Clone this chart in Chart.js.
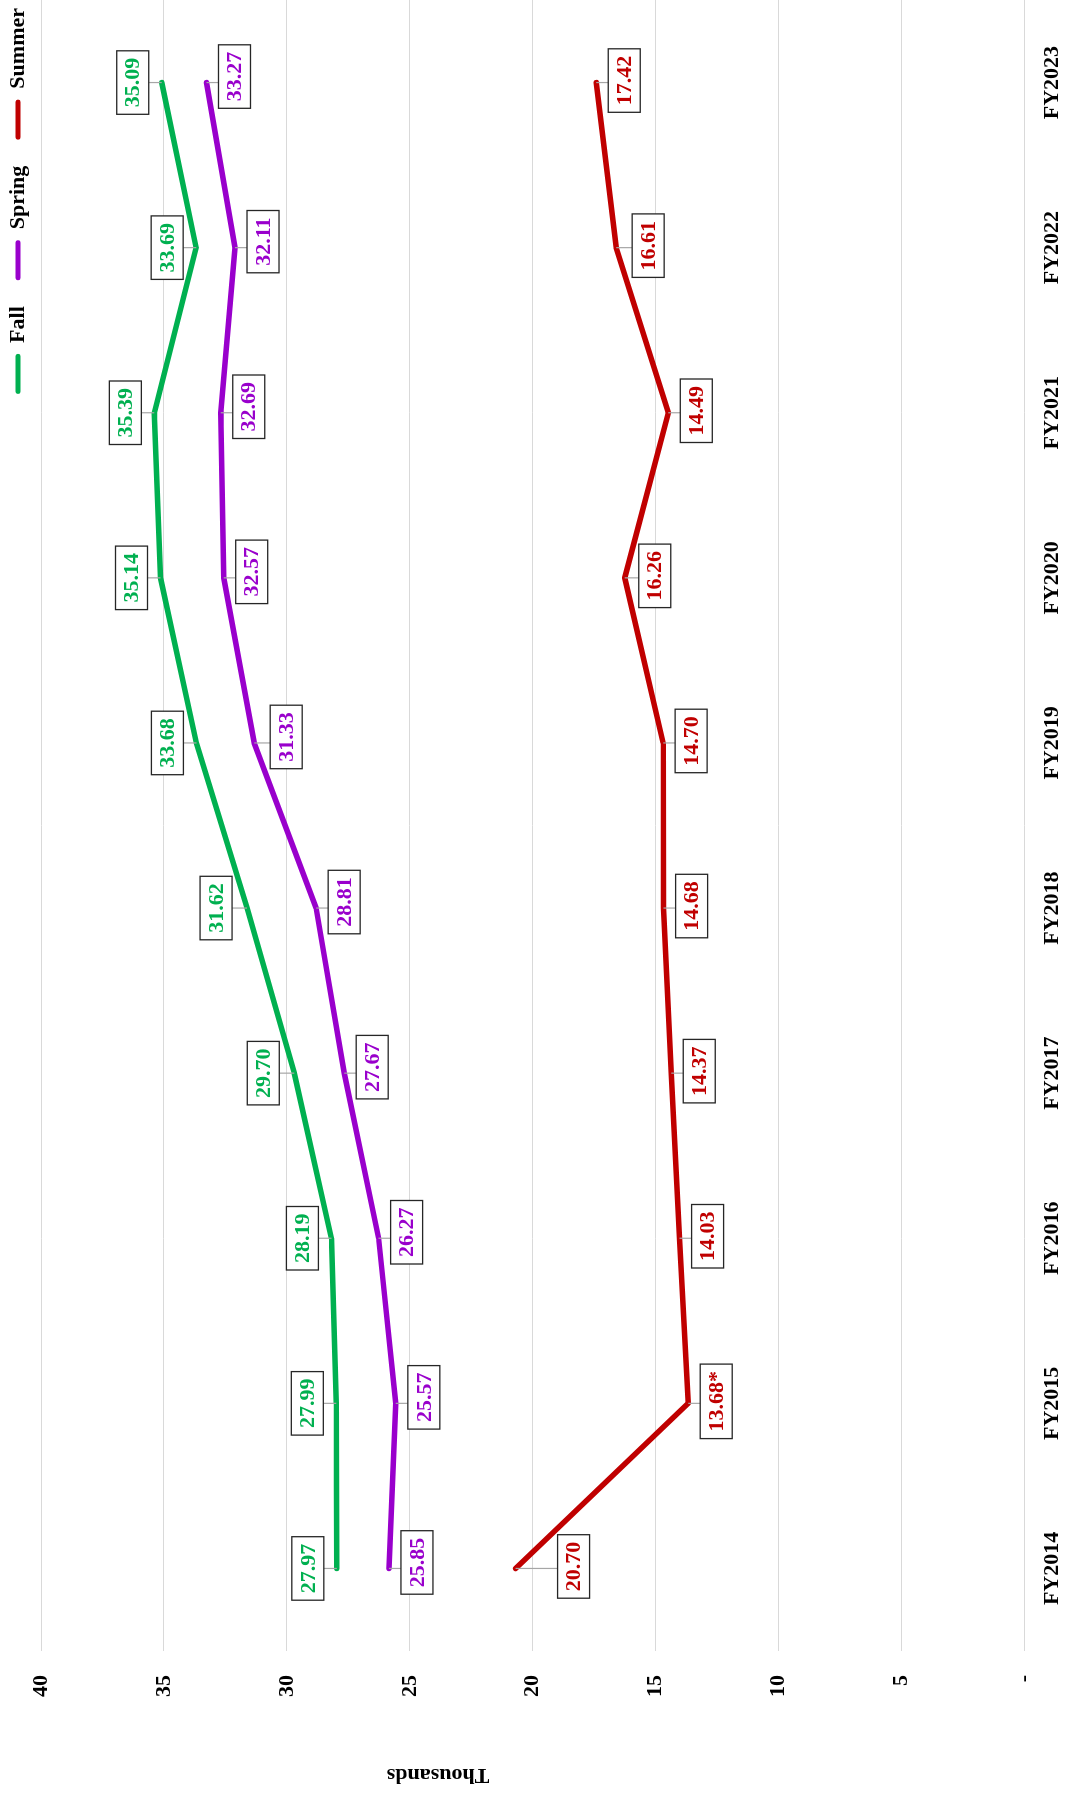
<!DOCTYPE html>
<html>
<head>
<meta charset="utf-8">
<script src="https://cdn.jsdelivr.net/npm/chart.js@4.4.1/dist/chart.umd.min.js"></script>
<style>
html, body { margin: 0; padding: 0; width: 1081px; height: 1793px; overflow: hidden; background: #fff; }
/* chart is drawn landscape, then turned a quarter counter-clockwise */
#wrap { position: absolute; left: 0; top: 0; width: 1793px; height: 1081px;
        transform-origin: 0 0; transform: translate(0, 1793px) rotate(-90deg); }
</style>
</head>
<body>
<div id="wrap"><canvas id="termChart" width="1793" height="1081"></canvas></div>
<script>
const years = ['FY2014', 'FY2015', 'FY2016', 'FY2017', 'FY2018', 'FY2019', 'FY2020', 'FY2021', 'FY2022', 'FY2023'];
const fallValues = [27.97, 27.99, 28.19, 29.70, 31.62, 33.68, 35.14, 35.39, 33.69, 35.09];
const springValues = [25.85, 25.57, 26.27, 27.67, 28.81, 31.33, 32.57, 32.69, 32.11, 33.27];
const summerValues = [20.70, 13.68, 14.03, 14.37, 14.68, 14.70, 16.26, 14.49, 16.61, 17.42];
const summerNotes = ['', '*', '', '', '', '', '', '', '', ''];
const axisMax = 40;
const axisStep = 5;

const serif = '"Liberation Serif", "Times New Roman", serif';

// does the series line (either side of point i) run through the box?
function boxHitsLine(box, pts, i, pad) {
    const segs = [];
    if (i > 0) segs.push([pts[i - 1], pts[i]]);
    if (i < pts.length - 1) segs.push([pts[i], pts[i + 1]]);
    for (const [a, b] of segs) {
        for (let t = 0; t <= 1; t += 0.02) {
            const x = a.x + (b.x - a.x) * t;
            const y = a.y + (b.y - a.y) * t;
            if (x > box.l - pad && x < box.r + pad && y > box.t - pad && y < box.b + pad) return true;
        }
    }
    return false;
}

// boxed value labels with a grey leader line back to the point
const valueLabels = {
    id: 'valueLabels',
    afterDatasetsDraw(chart) {
        const ctx = chart.ctx;
        ctx.save();
        ctx.font = 'bold 22px ' + serif;
        ctx.textAlign = 'center';
        ctx.textBaseline = 'middle';
        chart.data.datasets.forEach((ds, di) => {
            const pts = chart.getDatasetMeta(di).data;
            pts.forEach((pt, i) => {
                const text = ds.data[i].toFixed(2) + (ds.notes ? ds.notes[i] : '');
                const w = ctx.measureText(text).width + 14;
                const h = 32;
                const cx = pt.x + ds.labelOffset.dx;
                let dy = ds.labelOffset.dy;
                const sign = Math.sign(dy);
                let box;
                for (;;) {
                    const cy = pt.y + dy;
                    box = { l: cx - w / 2, r: cx + w / 2, t: cy - h / 2, b: cy + h / 2, cy: cy };
                    if (!boxHitsLine(box, pts, i, 4) || Math.abs(dy) > 90) break;
                    dy += sign * 2;
                }
                const nx = Math.max(box.l, Math.min(pt.x, box.r));
                const ny = Math.max(box.t, Math.min(pt.y, box.b));
                if (Math.hypot(nx - pt.x, ny - pt.y) > 4) {
                    ctx.strokeStyle = '#a6a6a6';
                    ctx.lineWidth = 1.2;
                    ctx.beginPath();
                    ctx.moveTo(pt.x, pt.y);
                    ctx.lineTo(nx, ny);
                    ctx.stroke();
                }
                ctx.fillStyle = '#fff';
                ctx.fillRect(box.l, box.t, w, h);
                ctx.strokeStyle = '#262626';
                ctx.lineWidth = 1.3;
                ctx.strokeRect(box.l, box.t, w, h);
                ctx.fillStyle = ds.borderColor;
                ctx.fillText(text, cx, box.cy + 1);
            });
        });
        ctx.restore();
    }
};

// axis title sits off-centre, like the original
const sideTitle = {
    id: 'sideTitle',
    afterDraw(chart) {
        const ctx = chart.ctx;
        ctx.save();
        ctx.font = 'bold 22px ' + serif;
        ctx.fillStyle = '#000';
        ctx.textAlign = 'center';
        ctx.textBaseline = 'middle';
        ctx.translate(18, 438);
        ctx.rotate(-Math.PI / 2);
        ctx.fillText('Thousands', 0, 0);
        ctx.restore();
    }
};

// nudge the legend row into the corner
const legendNudge = {
    id: 'legendNudge',
    afterLayout(chart) {
        const lg = chart.legend;
        lg.left += 11; lg.right += 11;
        lg.top -= 2; lg.bottom -= 2;
    }
};

function lineSet(label, values, color, offset) {
    return {
        label: label,
        data: values,
        borderColor: color,
        backgroundColor: color,
        borderWidth: 5.5,
        borderCapStyle: 'round',
        borderJoinStyle: 'round',
        tension: 0,
        pointRadius: 0,
        pointHoverRadius: 0,
        fill: false,
        labelOffset: offset
    };
}

const summerSet = lineSet('Summer', summerValues, '#C00000', { dx: 2, dy: 28 });
summerSet.notes = summerNotes;

new Chart(document.getElementById('termChart'), {
    type: 'line',
    data: {
        labels: years,
        datasets: [
            lineSet('Fall', fallValues, '#00B050', { dx: 0, dy: -29 }),
            lineSet('Spring', springValues, '#9900CC', { dx: 6, dy: 28 }),
            summerSet
        ]
    },
    options: {
        responsive: false,
        animation: false,
        layout: { padding: { top: -17, right: -7, left: 0, bottom: 0 } },
        plugins: {
            tooltip: { enabled: false },
            legend: {
                position: 'top',
                align: 'end',
                labels: {
                    color: '#000',
                    font: { family: serif, size: 22, weight: 'bold' },
                    boxWidth: 40,
                    boxHeight: 5,
                    padding: 26,
                    useBorderRadius: true,
                    borderRadius: 2.5,
                    generateLabels(chart) {
                        return Chart.defaults.plugins.legend.labels.generateLabels(chart)
                            .map(item => Object.assign(item, { lineWidth: 0 }));
                    }
                }
            }
        },
        scales: {
            x: {
                offset: true,
                grid: { display: false, drawTicks: false },
                border: { display: false },
                ticks: {
                    color: '#000',
                    padding: 15,
                    maxRotation: 0,
                    font: { family: serif, size: 22, weight: 'bold' }
                }
            },
            y: {
                min: 0,
                max: axisMax,
                afterFit(scale) { scale.width = 142; },
                grid: { color: '#d9d9d9', lineWidth: 1, drawTicks: false },
                border: { display: false },
                ticks: {
                    stepSize: axisStep,
                    color: '#000',
                    padding: 24,
                    font: { family: serif, size: 22, weight: 'bold' },
                    callback: v => (v === 0 ? '-' : String(v))
                }
            }
        }
    },
    plugins: [valueLabels, sideTitle, legendNudge]
});
</script>
</body>
</html>
